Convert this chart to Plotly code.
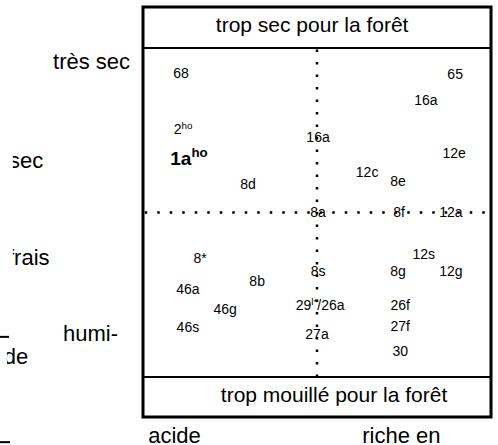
import plotly.graph_objects as go

# ---- data: units (x: 0 = acide ... 100 = riche en bases ; y: 0 = humide ... 100 = très sec)
labels = ["68", "2<sup>ho</sup>", "8d", "16a", "65", "16a", "12e", "12c", "8e",
          "8a", "8f", "12a", "8*", "46a", "8b", "46g", "46s",
          "29<sup>l*</sup>/26a", "27a", "8s", "12s", "8g", "12g", "26f", "27f", "30"]
label_x = [10.9, 11.5, 30.2, 50.3, 89.7, 81.3, 89.4, 64.4, 73.3,
           50.3, 73.6, 88.5, 16.4, 12.9, 32.8, 23.6, 12.9,
           50.9, 50.0, 50.3, 80.7, 73.3, 88.5, 73.9, 73.9, 73.9]
label_y = [91.8, 74.8, 58.1, 72.6, 91.5, 83.6, 67.5, 62.0, 59.0,
           49.8, 49.8, 49.8, 35.6, 26.4, 28.6, 20.1, 14.6,
           21.3, 12.5, 31.9, 36.8, 31.9, 31.9, 21.3, 14.9, 7.6]

bold_label = ["<b>1a<sup>ho</sup></b>"]
bold_x = [13.2]
bold_y = [66.0]

zone_labels = ["trop sec pour la forêt", "trop mouillé pour la forêt"]
zone_x = [48.6, 54.9]
zone_y = [106.4, -6.1]

moist_labels = ["très sec", "sec", "frais", "humi-", "de"]
moist_x = [-3.7, -38.5, -38.8, -23.0, -40.0]
moist_y = [95.4, 65.3, 35.6, 12.5, 5.5]
moist_pos = ["middle left", "middle right", "middle right", "middle right", "middle right"]

base_labels = ["acide", "riche en"]
base_x = [1.5, 63.0]
base_y = [-18.3, -18.3]

FONT = "Liberation Sans, Arial, sans-serif"

fig = go.Figure()
fig.add_trace(go.Scatter(x=label_x, y=label_y, text=labels, mode="text",
                         textposition="middle center",
                         textfont=dict(family=FONT, size=14, color="black"),
                         hoverinfo="skip", cliponaxis=False))
fig.add_trace(go.Scatter(x=bold_x, y=bold_y, text=bold_label, mode="text",
                         textposition="middle center",
                         textfont=dict(family=FONT, size=19, color="black"),
                         hoverinfo="skip", cliponaxis=False))
fig.add_trace(go.Scatter(x=zone_x, y=zone_y, text=zone_labels, mode="text",
                         textposition="middle center",
                         textfont=dict(family=FONT, size=21, color="black"),
                         hoverinfo="skip", cliponaxis=False))
fig.add_trace(go.Scatter(x=moist_x, y=moist_y, text=moist_labels, mode="text",
                         textposition=moist_pos,
                         textfont=dict(family=FONT, size=22, color="black"),
                         hoverinfo="skip", cliponaxis=True))
fig.add_trace(go.Scatter(x=base_x, y=base_y, text=base_labels, mode="text",
                         textposition="middle right",
                         textfont=dict(family=FONT, size=22, color="black"),
                         hoverinfo="skip", cliponaxis=True))

shapes = [
    # outer frame
    dict(type="rect", x0=0, x1=100, y0=-12.16, y1=112.46,
         line=dict(color="black", width=3), layer="above"),
    # band separators
    dict(type="line", x0=0, x1=100, y0=100, y1=100, line=dict(color="black", width=2)),
    dict(type="line", x0=0, x1=100, y0=0, y1=0, line=dict(color="black", width=2)),
    # dotted axes
    dict(type="line", x0=50, x1=50, y0=0, y1=100,
         line=dict(color="black", width=2.5, dash="2.5px,10px")),
    dict(type="line", x0=0.5, x1=99.5, y0=50, y1=50,
         line=dict(color="black", width=2.5, dash="2.5px,10px")),
    # clipped fragments at left edge
    dict(type="line", x0=-41.2, x1=-38.5, y0=12.2, y1=12.2, line=dict(color="black", width=2)),
    dict(type="line", x0=-41.2, x1=-38.2, y0=-19.8, y1=-19.8, line=dict(color="black", width=2)),
    # clip masks
    dict(type="rect", x0=-41.2, x1=-37.4, y0=28, y1=72, fillcolor="white",
         line=dict(width=0), layer="above"),
    dict(type="rect", x0=-41.2, x1=-39.1, y0=1.5, y1=9.0, fillcolor="white",
         line=dict(width=0), layer="above"),
]

fig.update_layout(
    width=498, height=445, autosize=False,
    margin=dict(l=0, r=0, t=0, b=0, pad=0, autoexpand=False),
    paper_bgcolor="white", plot_bgcolor="white",
    showlegend=False,
    xaxis=dict(range=[-143 / 3.48, (498 - 143) / 3.48], visible=False, fixedrange=True),
    yaxis=dict(range=[-(445 - 377) / 3.29, 377 / 3.29], visible=False, fixedrange=True),
    shapes=shapes,
)

fig.write_html(
    "out.html",
    config={"displayModeBar": False, "staticPlot": True},
    post_script="document.body.style.margin='0px';document.body.style.overflow='hidden';"
                "document.documentElement.style.overflow='hidden';",
)
